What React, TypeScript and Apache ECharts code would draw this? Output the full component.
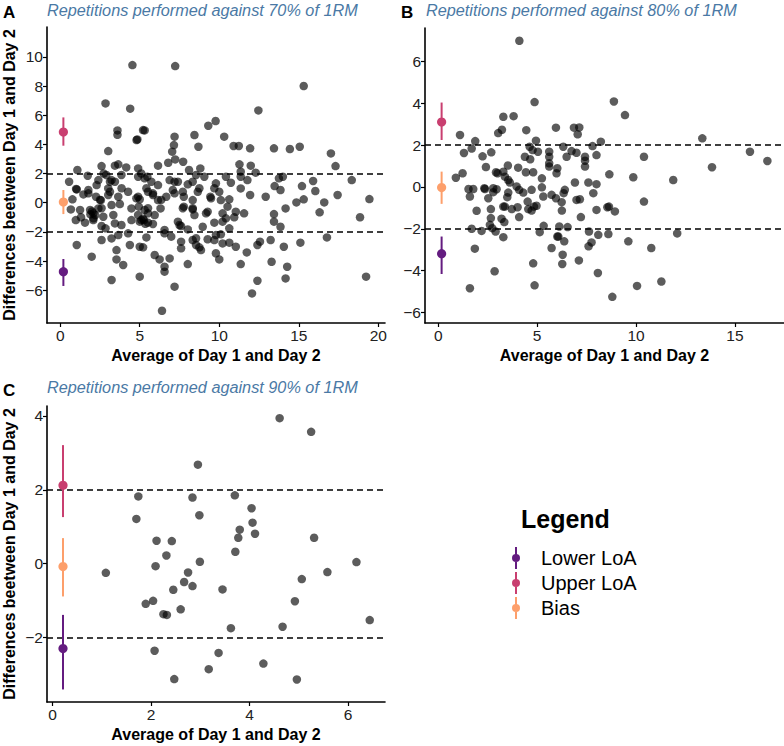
import { useEffect, useRef } from 'react';
import * as echarts from 'echarts';

// panel A: 70% of 1RM  [average, difference]
const pointsA: number[][] = [
  [4.54, 9.44], [7.23, 9.37], [15.31, 8.0], [2.85, 6.81], [4.4, 6.45], [12.46, 6.33], [9.77, 5.6], [9.31, 5.28],
  [3.6, 4.96], [3.6, 4.66], [5.21, 4.98], [5.31, 4.96], [4.85, 4.34], [4.8, 4.3], [7.19, 4.53], [8.44, 4.64],
  [10.31, 4.53], [7.15, 3.95], [7.04, 3.5], [8.69, 3.84], [10.9, 3.89], [11.23, 3.89], [11.94, 3.73], [13.44, 3.73],
  [14.44, 3.68], [15.06, 3.84], [17.02, 3.38], [3.02, 3.54],
  [2.6, 2.51], [2.73, 2.0], [3.44, 2.54], [3.65, 2.63], [4.15, 2.42], [1.08, 2.24], [1.73, 1.85], [6.15, 2.54],
  [6.79, 2.74], [7.23, 2.97], [7.73, 2.81], [8.81, 2.35], [8.1, 2.24], [11.27, 2.63], [11.98, 2.54], [12.29, 2.06],
  [11.35, 2.13], [17.31, 2.51], [4.9, 2.35], [5.1, 2.0],
  [0.56, 1.44], [2.4, 1.55], [2.9, 1.9], [3.23, 1.55], [3.44, 1.44], [3.85, 1.9], [4.9, 1.78], [5.48, 1.78],
  [5.73, 1.44], [6.15, 1.21], [6.88, 1.55], [7.4, 1.44], [8.02, 1.26], [8.54, 1.9], [9.06, 1.78], [9.79, 1.33],
  [10.42, 1.78], [10.73, 1.37], [11.35, 1.78], [11.77, 1.55], [15.2, 1.14], [15.9, 1.49], [18.33, 1.55], [14.0, 1.78],
  [13.75, 1.67], [13.48, 1.14], [2.29, 1.21], [3.13, 1.44], [5.31, 1.67], [7.19, 1.44], [8.33, 1.44], [3.86, 0.99],
  [1.04, 0.91], [0.77, 0.23], [1.77, 0.64], [2.25, 0.41], [2.56, 0.18], [3.02, 0.98], [3.13, 0.75], [3.65, 0.41],
  [4.27, 0.75], [4.9, 0.41], [5.0, 0.23], [5.52, 0.75], [5.83, 0.64], [6.15, 0.18], [6.67, 0.41], [7.08, 0.87],
  [7.19, 0.64], [7.77, 0.41], [8.33, 0.18], [8.65, 0.75], [9.44, 0.41], [10.0, 0.75], [10.1, 0.18], [10.63, 0.23],
  [11.35, 0.98], [11.94, 0.53], [12.92, 0.41], [13.85, 0.87], [14.85, 0.02], [15.31, 0.23], [16.04, 0.8], [16.6, 0.02],
  [17.44, 0.53], [19.44, 0.25], [1.0, 0.94], [1.46, 0.57], [1.77, 0.87], [2.5, 0.19], [3.02, 0.53], [4.79, 0.3],
  [5.42, 0.99], [5.83, 0.53], [6.35, 0.19], [7.71, 0.75], [8.75, 0.99], [9.48, 0.3], [9.69, 0.99],
  [0.67, -0.46], [1.25, -0.5], [1.88, -0.5], [2.08, -0.73], [2.4, -0.39], [2.71, -0.96], [3.23, -0.16], [3.75, -0.09],
  [4.48, -0.39], [4.94, -0.27], [5.31, -0.5], [5.52, -0.73], [5.94, -0.85], [6.31, -0.39], [7.77, -0.27], [8.33, -0.46],
  [8.44, -0.85], [9.27, -0.62], [10.21, -0.73], [10.52, -0.27], [11.04, -0.62], [11.56, -0.73], [13.44, -0.78], [14.17, -0.39],
  [16.31, -0.66], [2.6, -0.38], [3.34, -0.84], [4.9, -0.84], [5.52, -0.38], [7.71, -0.38], [8.33, -0.38], [9.17, -0.73],
  [2.0, -0.6], [2.2, -0.85], [1.9, -0.8],
  [1.31, -1.0], [0.98, -1.19], [1.56, -1.37], [2.08, -1.19], [2.6, -1.6], [2.85, -1.76], [3.44, -1.42], [3.85, -1.53],
  [4.48, -1.19], [5.0, -1.3], [5.27, -1.19], [5.52, -1.37], [5.83, -1.46], [6.56, -1.87], [7.4, -1.3], [7.6, -1.6],
  [8.02, -1.83], [8.96, -1.65], [9.69, -1.37], [10.21, -1.3], [10.42, -1.07], [10.63, -1.76], [10.94, -1.0], [13.44, -1.3],
  [13.85, -1.65], [18.85, -1.0], [2.09, -1.07], [5.1, -1.19], [7.5, -1.53], [5.2, -1.1], [5.35, -1.45],
  [1.04, -2.9], [2.6, -2.56], [3.23, -2.45], [3.65, -2.22], [4.27, -2.1], [5.0, -3.02], [5.42, -2.38], [6.56, -2.1],
  [6.98, -2.33], [7.6, -2.67], [8.33, -2.56], [8.54, -2.9], [8.75, -3.06], [9.27, -2.51], [9.69, -2.56], [10.21, -2.79],
  [10.63, -2.74], [11.04, -3.02], [12.4, -2.9], [12.56, -2.67], [13.23, -2.56], [15.1, -2.74], [16.77, -2.38], [4.38, -2.9],
  [9.79, -2.22], [10.1, -2.17], [8.54, -2.44],
  [1.98, -3.7], [3.54, -3.25], [3.54, -3.89], [3.96, -4.27], [5.21, -3.06], [5.94, -3.59], [6.25, -3.89], [6.56, -4.39],
  [6.56, -4.73], [6.88, -3.82], [7.6, -3.13], [8.02, -4.21], [8.85, -3.25], [9.79, -3.47], [10.0, -3.89], [11.35, -4.21],
  [11.73, -3.41], [14.06, -3.02], [13.29, -4.05], [14.27, -4.39], [14.17, -5.19], [12.4, -5.35], [12.06, -6.22], [5.0, -5.07],
  [3.23, -5.3], [7.19, -5.76], [6.4, -7.41], [19.23, -5.07],
];

// panel B: 80% of 1RM
const pointsB: number[][] = [
  [4.1, 6.98], [4.87, 4.05], [8.88, 4.08], [9.44, 3.43], [3.29, 3.35], [3.81, 3.38], [3.22, 2.73], [3.03, 2.57],
  [4.45, 2.71], [5.95, 2.83], [6.86, 2.83], [7.13, 2.84], [7.05, 2.51], [1.1, 2.48], [1.87, 2.19], [4.94, 2.21],
  [8.22, 2.16], [13.35, 2.32], [4.62, 1.92], [6.32, 1.92], [7.8, 1.95], [1.69, 1.83], [1.3, 1.62], [2.24, 1.46],
  [2.68, 1.65], [4.77, 1.76], [5.04, 1.68], [5.61, 1.68], [5.61, 1.44], [5.61, 1.13], [5.61, 0.97], [6.02, 0.89],
  [5.98, 0.65], [6.74, 1.71], [6.99, 1.63], [6.49, 1.44], [7.42, 1.44], [7.42, 1.25], [7.42, 0.97], [8.0, 1.52],
  [4.38, 1.44], [4.65, 1.32], [10.4, 1.44], [15.76, 1.68], [16.64, 1.24], [13.84, 0.94], [2.41, 0.95], [2.92, 0.7],
  [3.0, 0.65], [3.29, 0.73], [3.52, 1.02], [4.04, 0.92], [4.43, 0.7], [4.8, 0.7], [5.24, 0.41], [1.23, 0.65],
  [0.89, 0.44], [8.65, 0.6], [9.86, 0.46], [11.88, 0.33], [3.37, 0.49], [3.54, 0.33], [3.62, 0.21], [6.91, 0.21],
  [7.59, 0.21], [8.0, 0.13], [1.53, -0.1], [1.77, -0.1], [2.33, -0.06], [2.36, -0.1], [2.78, -0.06], [2.95, -0.11],
  [2.78, -0.25], [3.96, 0.02], [4.09, -0.14], [4.3, -0.27], [4.72, -0.14], [5.24, -0.02], [5.73, -0.38], [5.95, -0.54],
  [6.4, -0.14], [6.34, -0.3], [7.84, -0.3], [1.6, -0.46], [2.53, -0.54], [3.54, -0.27], [3.49, -0.49], [5.31, -0.46],
  [7.16, -0.59], [6.99, -0.62], [4.52, -0.7], [6.24, -0.73], [10.4, -0.7], [4.84, -0.94], [4.97, -0.9], [3.29, -0.94],
  [3.37, -0.94], [2.66, -1.06], [1.94, -1.14], [3.72, -1.06], [4.01, -0.97], [4.55, -1.06], [4.72, -1.13], [6.25, -1.13],
  [8.0, -1.1], [8.55, -0.97], [8.63, -0.94], [8.93, -1.17], [2.66, -1.49], [3.2, -1.52], [3.34, -1.68], [4.09, -1.44],
  [7.21, -1.44], [2.61, -1.81], [2.73, -1.97], [1.69, -2.0], [2.9, -2.13], [2.19, -2.1], [5.33, -1.86], [5.13, -2.16],
  [6.12, -1.89], [6.54, -1.92], [6.02, -2.37], [6.07, -2.37], [7.62, -2.13], [8.09, -2.29], [8.6, -2.25], [12.08, -2.22],
  [3.29, -2.4], [6.37, -2.6], [5.73, -2.92], [1.85, -2.95], [7.75, -2.65], [7.6, -2.84], [9.61, -2.6], [10.77, -2.92],
  [6.29, -3.24], [7.11, -3.51], [4.8, -3.65], [6.27, -3.68], [2.85, -4.03], [8.07, -4.11], [1.6, -4.84], [4.87, -4.7],
  [10.05, -4.73], [11.28, -4.52], [8.8, -5.25],
];

// panel C: 90% of 1RM
const pointsC: number[][] = [
  [4.61, 3.94], [5.25, 3.57], [2.95, 2.68], [1.74, 1.82], [2.84, 1.79], [3.7, 1.85], [1.7, 1.21], [2.98, 1.31],
  [4.04, 1.5], [4.06, 1.11], [4.11, 0.81], [3.8, 0.92], [3.77, 0.7], [5.31, 0.7], [2.11, 0.62], [2.42, 0.61],
  [3.71, 0.32], [2.31, 0.22], [2.99, 0.05], [6.17, 0.04], [2.09, -0.07], [1.08, -0.25], [2.75, -0.24], [5.58, -0.23],
  [2.67, -0.5], [2.84, -0.61], [5.06, -0.42], [2.45, -0.71], [3.45, -0.7], [1.89, -1.09], [2.04, -1.01], [4.92, -1.02],
  [2.6, -1.24], [2.25, -1.37], [2.32, -1.39], [6.44, -1.53], [3.62, -1.75], [4.67, -1.71], [2.07, -2.36], [3.37, -2.42],
  [4.28, -2.71], [3.17, -2.86], [2.47, -3.13], [4.96, -3.14],
];

// [x, estimate, lower CI, upper CI] per panel
const lowerLoA: number[][] = [[0.2, -4.73, -5.71, -3.86], [0.17, -3.19, -4.16, -2.37], [0.21, -2.3, -3.41, -1.39]];
const upperLoA: number[][] = [[0.2, 4.85, 3.91, 5.85], [0.17, 3.1, 2.24, 4.03], [0.21, 2.12, 1.26, 3.21]];
const bias: number[][] = [[0.2, 0.05, -0.78, 0.87], [0.17, -0.03, -0.81, 0.73], [0.21, -0.08, -0.89, 0.69]];

const panelLetters = ['A', 'B', 'C'];
const panelTitles = [
  'Repetitions performed against 70% of 1RM',
  'Repetitions performed against 80% of 1RM',
  'Repetitions performed against 90% of 1RM',
];
const xTicks = [[0, 5, 10, 15, 20], [0, 5, 10, 15], [0, 2, 4, 6]];
const yTicks = [[-6, -4, -2, 0, 2, 4, 6, 8, 10], [-6, -4, -2, 0, 2, 4, 6], [-2, 0, 2, 4]];
const limitLines = [-2, 2];

const FONT = '"Liberation Sans", Arial, Helvetica, sans-serif';
const COLORS = { lower: '#641c80', upper: '#c93f70', bias: '#fd9f6b' };
const LEGEND_ICON = 'path://M9,0 h2 v22 h-2 z M10,7 a4,4 0 1,1 0,8 a4,4 0 1,1 0,-8 z';

const App = () => {
  const chartRef = useRef<HTMLDivElement>(null);

  useEffect(() => {
    if (!chartRef.current) return;
    document.body.style.margin = '0';
    const chart = echarts.init(chartRef.current, null, { renderer: 'svg' });

    const grids = [
      { left: 45, top: 27, width: 340, height: 296 },
      { left: 425, top: 28, width: 359, height: 295 },
      { left: 45, top: 406, width: 340, height: 296 },
    ];
    const xRanges = [[-0.83, 20.42], [-0.67, 17.48], [-0.115, 6.75]];
    const yRanges = [[-8.25, 12.05], [-6.5, 7.59], [-3.75, 4.27]];

    const axisCommon = (ticks: number[]) => ({
      type: 'value',
      splitLine: { show: false },
      axisLine: { show: true, onZero: false, lineStyle: { color: '#000', width: 1.6 } },
      axisTick: { show: true, length: 4, customValues: ticks, lineStyle: { color: '#000', width: 1.2 } },
      axisLabel: {
        customValues: ticks,
        margin: 4,
        fontSize: 15.5,
        color: '#222',
        fontFamily: FONT,
        formatter: (v: number) => String(v).replace('-', '\u2212'),
      },
      nameTextStyle: { fontSize: 16, fontWeight: 'bold', color: '#000', fontFamily: FONT },
    });

    const xAxis = grids.map((_, i) => ({
      ...axisCommon(xTicks[i]),
      gridIndex: i,
      min: xRanges[i][0],
      max: xRanges[i][1],
      name: 'Average of Day 1 and Day 2',
      nameLocation: 'middle',
      nameGap: 24,
    }));

    const yAxis = grids.map((_, i) => ({
      ...axisCommon(yTicks[i]),
      gridIndex: i,
      min: yRanges[i][0],
      max: yRanges[i][1],
      name: i === 1 ? '' : 'Differences beetween Day 1 and Day 2',
      nameLocation: 'middle',
      nameGap: 30,
    }));

    const errorSeries = (name: string, color: string, rows: number[][]) =>
      rows.map((row, i) => ({
        type: 'custom',
        name,
        xAxisIndex: i,
        yAxisIndex: i,
        itemStyle: { color },
        data: [row],
        z: 5,
        renderItem: (_params: any, api: any) => {
          const p = api.coord([api.value(0), api.value(1)]);
          const lo = api.coord([api.value(0), api.value(2)]);
          const hi = api.coord([api.value(0), api.value(3)]);
          return {
            type: 'group',
            children: [
              { type: 'line', shape: { x1: lo[0], y1: lo[1], x2: hi[0], y2: hi[1] }, style: { stroke: color, lineWidth: 2 } },
              { type: 'circle', shape: { cx: p[0], cy: p[1], r: 4.6 }, style: { fill: color } },
            ],
          };
        },
      }));

    const scatterSeries = [pointsA, pointsB, pointsC].map((pts, i) => ({
      type: 'scatter',
      name: 'points' + i,
      xAxisIndex: i,
      yAxisIndex: i,
      data: pts,
      symbolSize: 8.5,
      itemStyle: { color: 'rgba(0,0,0,0.8)' },
      silent: true,
      markLine: {
        silent: true,
        symbol: 'none',
        label: { show: false },
        lineStyle: { color: '#000', width: 1.5, type: [6, 4] },
        data: limitLines.map((v) => ({ yAxis: v })),
      },
    }));

    const titles: any[] = [];
    const letterPos = [[3, 4], [401, 4], [3, 382]];
    const titlePos = [[47, 2], [426, 2], [47, 379]];
    panelLetters.forEach((t, i) => {
      titles.push({
        text: t,
        left: letterPos[i][0],
        top: letterPos[i][1],
        padding: 0,
        textStyle: { fontSize: 17, fontWeight: 'bold', color: '#000', fontFamily: FONT },
      });
      titles.push({
        text: panelTitles[i],
        left: titlePos[i][0],
        top: titlePos[i][1],
        padding: 0,
        textStyle: { fontSize: 16.25, fontStyle: 'italic', fontWeight: 'normal', color: '#4a79a5', fontFamily: FONT },
      });
    });
    titles.push({
      text: 'Legend',
      left: 521,
      top: 506,
      padding: 0,
      textStyle: { fontSize: 25, fontWeight: 'bold', color: '#000', fontFamily: FONT },
    });

    const option = {
      animation: false,
      textStyle: { fontFamily: FONT },
      title: titles,
      grid: grids,
      xAxis,
      yAxis,
      legend: {
        orient: 'vertical',
        left: 512,
        top: 547,
        padding: 0,
        itemWidth: 40,
        itemHeight: 22,
        itemGap: 3,
        icon: LEGEND_ICON,
        selectedMode: false,
        data: ['Lower LoA', 'Upper LoA', 'Bias'],
        textStyle: { fontSize: 20, color: '#000', fontFamily: FONT },
      },
      series: [
        ...scatterSeries,
        ...errorSeries('Lower LoA', COLORS.lower, lowerLoA),
        ...errorSeries('Upper LoA', COLORS.upper, upperLoA),
        ...errorSeries('Bias', COLORS.bias, bias),
      ],
    };

    chart.setOption(option);

    return () => {
      chart.dispose();
    };
  }, []);

  return <div ref={chartRef} style={{ width: '784px', height: '746px' }} />;
};

export default App;
